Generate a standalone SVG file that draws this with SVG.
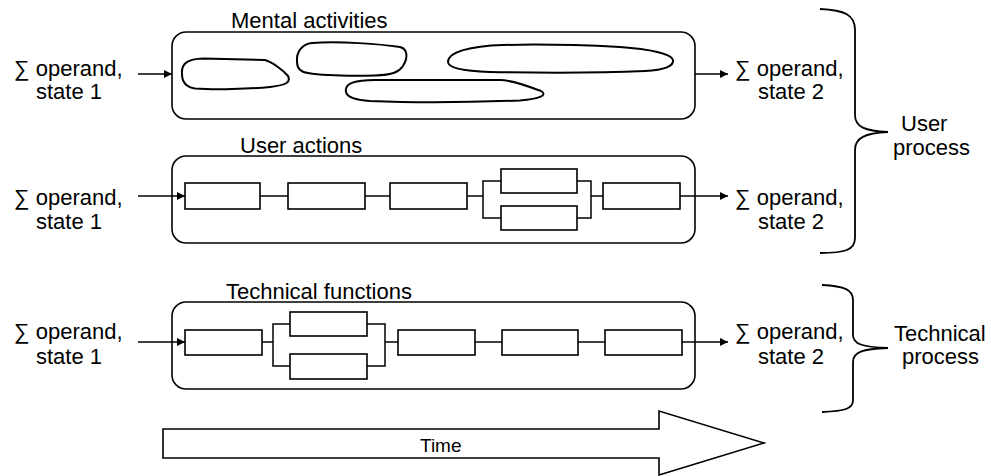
<svg xmlns="http://www.w3.org/2000/svg" width="991" height="476" viewBox="0 0 991 476">
  <defs>
    <marker id="arrow" viewBox="0 0 10 10" refX="10" refY="5" markerWidth="9" markerHeight="8" markerUnits="userSpaceOnUse" orient="auto">
      <path d="M0,0 L10,5 L0,10 Z" fill="#000"/>
    </marker>
    <style>
      text { font-family: "Liberation Sans", Arial, sans-serif; font-size: 22px; fill: #000; }
      .frame { fill: #fff; stroke: #000; stroke-width: 1.6; }
      .step { fill: #fff; stroke: #000; stroke-width: 1.6; }
      .blob { fill: none; stroke: #000; stroke-width: 2; }
      .wire { fill: none; stroke: #000; stroke-width: 1.5; }
      .flow { fill: none; stroke: #000; stroke-width: 1.5; marker-end: url(#arrow); }
      .brace { fill: none; stroke: #000; stroke-width: 1.8; }
    </style>
  </defs>

  <!-- Mental activities -->
  <g id="mental">
    <text x="231" y="28">Mental activities</text>
    <rect class="frame" x="172" y="32" width="523" height="87" rx="14"/>
    <path class="blob" d="M182,74 C181,63 188,59 203,58.5 L265,60 C272,62 283,70 288,76 C291,82 287,85 270,87 C250,89 215,90 195,88.5 C185,87 182,81 182,74 Z"/>
    <path class="blob" d="M297,62 C296,52 302,44 312,43 C340,41 380,44 400,47 C408,49 408,58 403,66 C399,72 393,75 375,75.5 C350,76 320,75 308,73 C300,72 297,68 297,62 Z"/>
    <path class="blob" d="M346,92 C344,83 356,80 375,80 L500,80 C512,80 530,87 541,91 C548,95 540,99 520,100.5 C480,102 420,103 370,101 C355,100 347,97 346,92 Z"/>
    <path class="blob" d="M448,62 C448,52 470,46 503,45 C540,44 580,45 620,47 C650,49 672,54 673,60 C674,66 665,70 645,71 C600,73 540,73 490,72 C465,71 448,68 448,62 Z"/>
  </g>

  <!-- User actions -->
  <g id="user-actions">
    <text x="240" y="153">User actions</text>
    <rect class="frame" x="172" y="156" width="523" height="87" rx="14"/>
    <rect class="step" x="185" y="183" width="75" height="26"/>
    <rect class="step" x="288" y="183" width="77" height="26"/>
    <rect class="step" x="390" y="183" width="77" height="26"/>
    <rect class="step" x="501" y="169" width="76" height="24"/>
    <rect class="step" x="501" y="206" width="76" height="24"/>
    <rect class="step" x="603" y="183" width="77" height="26"/>
  </g>

  <!-- Technical functions -->
  <g id="technical-functions">
    <text x="226" y="299">Technical functions</text>
    <rect class="frame" x="172" y="302" width="523" height="87" rx="14"/>
    <rect class="step" x="185" y="330" width="77" height="25"/>
    <rect class="step" x="290" y="312" width="77" height="24"/>
    <rect class="step" x="290" y="354" width="77" height="25"/>
    <rect class="step" x="398" y="330" width="77" height="25"/>
    <rect class="step" x="502" y="330" width="76" height="25"/>
    <rect class="step" x="605" y="330" width="77" height="25"/>
  </g>

  <!-- Operand labels -->
  <g id="operand-labels">
    <text x="14" y="76">∑ operand,</text>
    <text x="36" y="99">state 1</text>
    <text x="735" y="76">∑ operand,</text>
    <text x="758" y="99">state 2</text>
    <text x="14" y="205">∑ operand,</text>
    <text x="36" y="229">state 1</text>
    <text x="735" y="205">∑ operand,</text>
    <text x="758" y="229">state 2</text>
    <text x="14" y="339">∑ operand,</text>
    <text x="36" y="364">state 1</text>
    <text x="735" y="339">∑ operand,</text>
    <text x="758" y="364">state 2</text>
  </g>

  <!-- Process braces -->
  <g id="user-process">
    <path class="brace" d="M820,9 C845,10 855,15 855,30 L855,115 C855,127 865,131 888,132 C865,133 855,138 855,150 L855,238 C855,250 845,253 820,253"/>
    <text x="901" y="131">User</text>
    <text x="893" y="155">process</text>
  </g>
  <g id="technical-process">
    <path class="brace" d="M822,285 C845,286 853,290 853,300 L853,335 C853,344 862,347 888,348 C862,349 853,352 853,362 L853,400 C853,409 845,411 822,412"/>
    <text x="894" y="341">Technical</text>
    <text x="902" y="364">process</text>
  </g>

  <!-- Time axis -->
  <g id="time">
    <polygon class="frame" points="163,429 659,429 659,411 764,443 659,475 659,458 163,458"/>
    <text x="420" y="452" style="font-size:19px">Time</text>
  </g>

  <!-- Connectors -->
  <g id="connectors">
    <line class="flow" x1="138" y1="74" x2="172" y2="74"/>
    <line class="flow" x1="695" y1="74" x2="728" y2="74"/>

    <line class="flow" x1="138" y1="196" x2="185" y2="196"/>
    <line class="wire" x1="260" y1="196" x2="288" y2="196"/>
    <line class="wire" x1="365" y1="196" x2="390" y2="196"/>
    <line class="wire" x1="467" y1="196" x2="483" y2="196"/>
    <path class="wire" d="M501,181 H483 V218 H501"/>
    <path class="wire" d="M577,181 H591 V218 H577"/>
    <line class="wire" x1="591" y1="196" x2="603" y2="196"/>
    <line class="flow" x1="680" y1="196" x2="728" y2="196"/>

    <line class="flow" x1="138" y1="342" x2="185" y2="342"/>
    <line class="wire" x1="262" y1="342" x2="273" y2="342"/>
    <path class="wire" d="M290,324 H273 V366 H290"/>
    <path class="wire" d="M367,324 H385 V366 H367"/>
    <line class="wire" x1="385" y1="342" x2="398" y2="342"/>
    <line class="wire" x1="475" y1="342" x2="502" y2="342"/>
    <line class="wire" x1="578" y1="342" x2="605" y2="342"/>
    <line class="flow" x1="682" y1="342" x2="728" y2="342"/>
  </g>
</svg>
